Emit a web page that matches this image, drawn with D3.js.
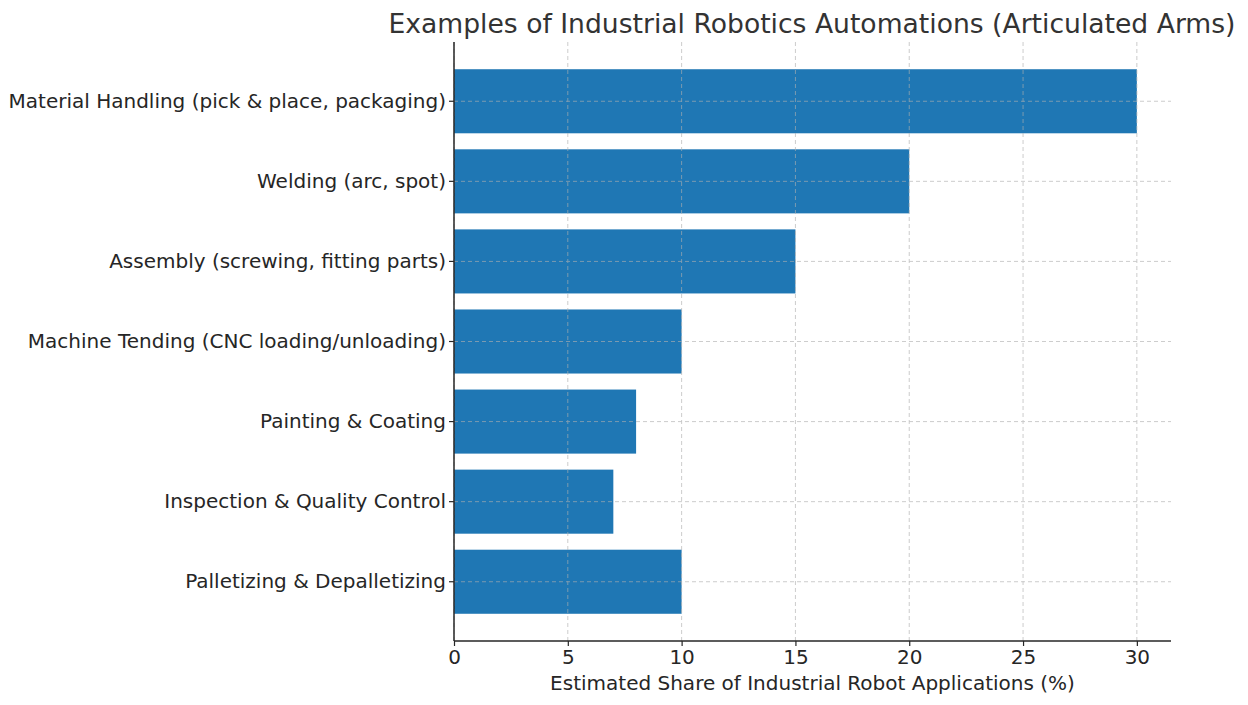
<!DOCTYPE html>
<html><head><meta charset="utf-8">
<script src="https://cdn.jsdelivr.net/npm/d3@7"></script>
<style>body{margin:0;background:#fff}svg{display:block}text{font-family:"DejaVu Sans",sans-serif}</style>
</head><body><svg id="c" width="1248" height="705"></svg>
<script>
const categories = ["Material Handling (pick & place, packaging)","Welding (arc, spot)","Assembly (screwing, fitting parts)","Machine Tending (CNC loading/unloading)","Painting & Coating","Inspection & Quality Control","Palletizing & Depalletizing"];
const values = [30,20,15,10,8,7,10];
const xTicks = [0,5,10,15,20,25,30];
const title = "Examples of Industrial Robotics Automations (Articulated Arms)";
const xLabel = "Estimated Share of Industrial Robot Applications (%)";

const svg = d3.select("#c");
const L=454, R=1171, T=42, B=641;
const x = d3.scaleLinear().domain([0,31.5]).range([L,R]);
const y = d3.scaleBand().domain(categories).range([T,B]).paddingInner(0.2).paddingOuter(0.34);
const ink="#262626";

// bars
svg.append("g").selectAll("rect").data(categories).join("rect")
  .attr("x",x(0)).attr("y",d=>y(d)).attr("height",y.bandwidth())
  .attr("width",(d,i)=>x(values[i])-x(0)).attr("fill","#1f77b4");

// grid
const g = svg.append("g").attr("stroke","#b0b0b0").attr("stroke-dasharray","4,3").attr("stroke-width",0.9).attr("opacity",0.7);
g.selectAll(".v").data(xTicks).join("line").attr("x1",d=>x(d)).attr("x2",d=>x(d)).attr("y1",T).attr("y2",B);
g.selectAll(".h").data(categories).join("line").attr("x1",L).attr("x2",R).attr("y1",d=>y(d)+y.bandwidth()/2).attr("y2",d=>y(d)+y.bandwidth()/2);

// axes
const xa = svg.append("g").attr("transform",`translate(0,${B})`)
  .call(d3.axisBottom(x).tickValues(xTicks).tickSize(5).tickPadding(4).tickSizeOuter(0));
const ya = svg.append("g").attr("transform",`translate(${L},0)`)
  .call(d3.axisLeft(y).tickSize(5).tickPadding(3).tickSizeOuter(0));
[xa,ya].forEach(a=>{
  a.select(".domain").attr("stroke",ink).attr("stroke-width",1.5);
  a.selectAll(".tick line").attr("stroke",ink).attr("stroke-width",1.2);
  a.selectAll("text").attr("fill",ink).style("font-size","20px").attr("font-family","DejaVu Sans");
});
xa.select(".domain").attr("d",`M${L},0H${R}`);
ya.select(".domain").attr("d",`M0,${T}V${B}`);

svg.append("text").attr("x",(L+R)/2).attr("y",690).attr("text-anchor","middle")
  .attr("fill",ink).style("font-size","20px").text(xLabel);
svg.append("text").attr("x",812).attr("y",33).attr("text-anchor","middle")
  .attr("fill","#333").style("font-size","26.6px").text(title);
</script></body></html>
